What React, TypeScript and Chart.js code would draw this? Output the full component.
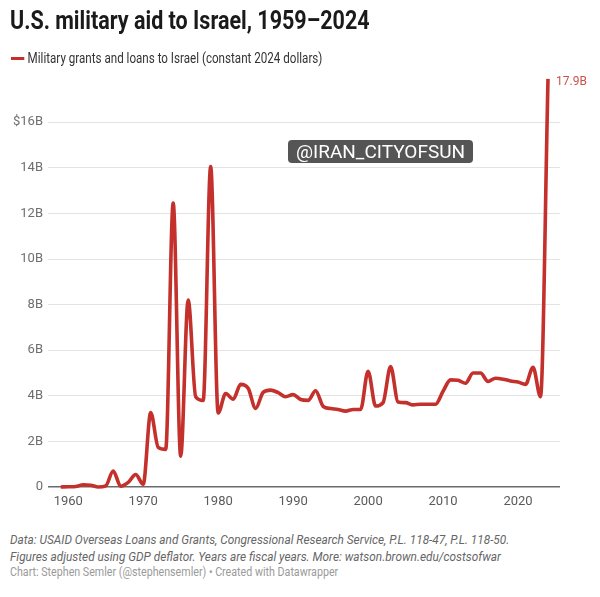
import React, { useEffect, useRef } from "react";
import { Chart, registerables } from "chart.js";

Chart.register(...registerables);

const years: number[] = [
  1959, 1960, 1961, 1962, 1963, 1964, 1965, 1966, 1967, 1968, 1969,
  1970, 1971, 1972, 1973, 1974, 1975, 1976, 1977, 1978, 1979,
  1980, 1981, 1982, 1983, 1984, 1985, 1986, 1987, 1988, 1989,
  1990, 1991, 1992, 1993, 1994, 1995, 1996, 1997, 1998, 1999,
  2000, 2001, 2002, 2003, 2004, 2005, 2006, 2007, 2008, 2009,
  2010, 2011, 2012, 2013, 2014, 2015, 2016, 2017, 2018, 2019,
  2020, 2021, 2022, 2023, 2024,
];

// Billions of constant 2024 dollars
const aid: number[] = [
  0.0, 0.01, 0.02, 0.1, 0.08, 0.0, 0.05, 0.7, 0.03, 0.2, 0.55,
  0.12, 3.26, 1.74, 1.65, 12.45, 1.35, 8.2, 3.96, 3.8, 14.05,
  3.25, 4.1, 3.85, 4.5, 4.33, 3.45, 4.15, 4.25, 4.14, 3.96,
  4.05, 3.84, 3.8, 4.22, 3.54, 3.44, 3.4, 3.33, 3.4, 3.4,
  5.08, 3.55, 3.7, 5.28, 3.73, 3.7, 3.6, 3.63, 3.63, 3.63,
  4.2, 4.7, 4.68, 4.55, 5.0, 5.0, 4.63, 4.77, 4.73, 4.65,
  4.6, 4.5, 5.25, 3.96, 17.9,
];

const xTicks: number[] = [1960, 1970, 1980, 1990, 2000, 2010, 2020];
const yTicks: number[] = [0, 2, 4, 6, 8, 10, 12, 14, 16];

const LINE = "#c4302b";

const lastLabel = {
  id: "lastLabel",
  afterDatasetsDraw(chart: any) {
    const meta = chart.getDatasetMeta(0);
    const pt = meta.data[meta.data.length - 1];
    const v = aid[aid.length - 1];
    const { ctx } = chart;
    ctx.save();
    ctx.font = "12px Roboto";
    ctx.fillStyle = "#c9524b";
    ctx.textBaseline = "middle";
    ctx.textAlign = "left";
    ctx.fillText(v.toFixed(1) + "B", pt.x + 8, pt.y + 3);
    ctx.restore();
  },
};

export default function App() {
  const ref = useRef<HTMLCanvasElement>(null);
  useEffect(() => {
    if (!ref.current) return;
    const chart = new Chart(ref.current, {
      type: "line",
      data: {
        datasets: [
          {
            data: years.map((y, i) => ({ x: y, y: aid[i] })),
            borderColor: LINE,
            borderWidth: 3.6,
            pointRadius: 0,
            cubicInterpolationMode: "monotone",
            fill: false,
            clip: false as any,
          },
        ],
      },
      options: {
        animation: false,
        responsive: false,
        devicePixelRatio: 1,
        layout: { padding: { left: 0, right: 40, top: 76.6, bottom: 0 } },
        plugins: { legend: { display: false }, tooltip: { enabled: false } },
        scales: {
          x: {
            type: "linear",
            min: 1957.3,
            max: 2025.6,
            afterBuildTicks: (s: any) => {
              s.ticks = xTicks.map((v) => ({ value: v }));
            },
            afterFit: (s: any) => {
              s.height = 33;
            },
            grid: { display: false, drawTicks: false },
            border: { display: false },
            ticks: {
              color: "#5a5a5a",
              font: { family: "Roboto", size: 13 },
              padding: 7,
              maxRotation: 0,
              autoSkip: false,
              callback: (v: any) => String(v),
            },
          },
          y: {
            min: 0,
            max: 18,
            afterBuildTicks: (s: any) => {
              s.ticks = yTicks.map((v) => ({ value: v }));
            },
            afterFit: (s: any) => {
              s.width = 48;
            },
            grid: {
              drawTicks: false,
              color: (c: any) => (c.tick && c.tick.value === 0 ? "#6b6b6b" : "#e3e3e3"),
              lineWidth: (c: any) => (c.tick && c.tick.value === 0 ? 1.6 : 1),
            },
            border: { display: false },
            ticks: {
              color: "#6e6e6e",
              font: { family: "Roboto", size: 13 },
              padding: 5,
              autoSkip: false,
              callback: (v: any) => (v === 16 ? "$16B" : v === 0 ? "0" : v + "B"),
            },
          },
        },
      },
      plugins: [lastLabel],
    });
    return () => chart.destroy();
  }, []);

  return (
    <div
      style={{
        position: "absolute",
        left: 0,
        top: 0,
        width: 600,
        height: 597,
        background: "#fff",
        fontFamily: "Roboto",
        overflow: "hidden",
      }}
    >
      <canvas
        ref={ref}
        width={600}
        height={520}
        style={{ position: "absolute", left: 0, top: 0, width: 600, height: 520 }}
      />
      <div
        style={{
          position: "absolute",
          left: 10,
          top: 6,
          fontSize: 25,
          fontWeight: 700,
          color: "#1a1a1a",
          whiteSpace: "nowrap",
          lineHeight: "30px",
          transformOrigin: "left top",
          transform: "scaleX(0.86)",
        }}
      >
        U.S. military aid to Israel, 1959–2024
      </div>
      <div
        style={{
          position: "absolute",
          left: 11,
          top: 50,
          height: 16,
          display: "flex",
          alignItems: "center",
          whiteSpace: "nowrap",
          transformOrigin: "left center",
          transform: "scaleX(0.83)",
        }}
      >
        <span
          style={{ display: "inline-block", width: 16, height: 3, background: LINE, marginRight: 4 }}
        />
        <span style={{ fontSize: 14, color: "#333" }}>
          Military grants and loans to Israel (constant 2024 dollars)
        </span>
      </div>
      <div
        style={{
          position: "absolute",
          left: 288,
          top: 140,
          width: 185,
          height: 23,
          background: "#555",
          borderRadius: 4,
          color: "#fff",
          fontSize: 19,
          lineHeight: "23px",
          textAlign: "center",
          whiteSpace: "nowrap",
        }}
      >
        @IRAN_CITYOFSUN
      </div>
      <div
        style={{
          position: "absolute",
          left: 10,
          top: 532,
          fontSize: 13,
          fontStyle: "italic",
          color: "#666",
          lineHeight: "16.5px",
          whiteSpace: "nowrap",
          transformOrigin: "left top",
          transform: "scaleX(0.91)",
        }}
      >
        <div>Data: USAID Overseas Loans and Grants, Congressional Research Service, P.L. 118-47, P.L. 118-50.</div>
        <div>Figures adjusted using GDP deflator. Years are fiscal years. More: watson.brown.edu/costsofwar</div>
      </div>
      <div
        style={{
          position: "absolute",
          left: 10,
          top: 565,
          fontSize: 12,
          color: "#9a9a9a",
          lineHeight: "15px",
          whiteSpace: "nowrap",
          transformOrigin: "left top",
          transform: "scaleX(0.89)",
        }}
      >
        Chart: Stephen Semler (@stephensemler) • Created with Datawrapper
      </div>
    </div>
  );
}
